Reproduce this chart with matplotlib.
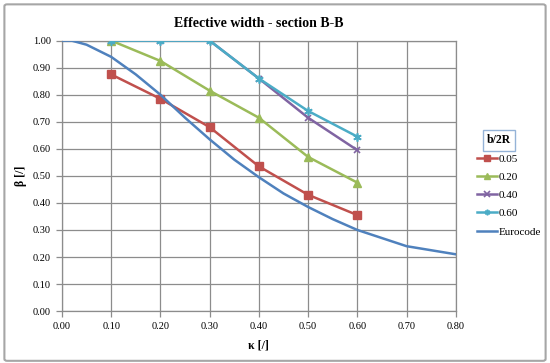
import matplotlib
matplotlib.use("Agg")
import matplotlib.pyplot as plt
from matplotlib.patches import FancyBboxPatch

plt.rcParams['font.family'] = ['Liberation Serif', 'DejaVu Serif']

kappa = [0.1, 0.2, 0.3, 0.4, 0.5, 0.6]
beta_005 = [0.875, 0.785, 0.68, 0.535, 0.43, 0.355]
beta_020 = [1.00, 0.925, 0.815, 0.715, 0.57, 0.475]
beta_040 = [1.00, 1.00, 1.00, 0.86, 0.715, 0.595]
beta_060 = [1.00, 1.00, 1.00, 0.86, 0.74, 0.645]

euro_kappa = [0.00, 0.02, 0.05, 0.10, 0.15, 0.20, 0.25, 0.30, 0.35, 0.40,
              0.45, 0.50, 0.55, 0.60, 0.65, 0.70, 0.75, 0.80]
euro_beta = [1.00, 1.00, 0.985, 0.94, 0.875, 0.80, 0.715, 0.635, 0.56, 0.495,
             0.435, 0.385, 0.34, 0.30, 0.27, 0.24, 0.225, 0.21]

series_labels = ['0.05', '0.20', '0.40', '0.60', 'Eurocode']
colors = ['#C0504D', '#9BBB59', '#8064A2', '#4BACC6', '#4F81BD']
xticks = [0.0, 0.1, 0.2, 0.3, 0.4, 0.5, 0.6, 0.7, 0.8]
yticks = [0.0, 0.1, 0.2, 0.3, 0.4, 0.5, 0.6, 0.7, 0.8, 0.9, 1.0]

fig = plt.figure(figsize=(5.5, 3.63), dpi=100)
ax = fig.add_axes([0.1127, 0.143, 0.716, 0.745])

border = FancyBboxPatch((0.008, 0.006), 0.984, 0.982, boxstyle="round,pad=0,rounding_size=0.005",
                        transform=fig.transFigure, facecolor='white', edgecolor='#A6A6A6',
                        linewidth=1.5, zorder=-10)
fig.patches.append(border)

lw = 1.8
ax.plot(kappa, beta_005, color=colors[0], marker='s', markersize=5.5, lw=lw, label=series_labels[0], zorder=3)
ax.plot(kappa, beta_020, color=colors[1], marker='^', markersize=5.5, lw=lw, label=series_labels[1], zorder=3)
ax.plot(kappa, beta_040, color=colors[2], marker='x', markersize=5, mew=1.2, lw=lw, label=series_labels[2], zorder=3)
ax.plot(kappa, beta_060, color=colors[3], marker=(6, 2, 0), markersize=6, mew=1.2, lw=lw, label=series_labels[3], zorder=3)
ax.plot(euro_kappa, euro_beta, color=colors[4], lw=lw, label=series_labels[4], zorder=3)

ax.set_xlim(0, 0.8)
ax.set_ylim(0, 1.0)
ax.set_xticks(xticks)
ax.set_yticks(yticks)
ax.set_xticklabels([f'{v:.2f}' for v in xticks], fontsize=7.5)
ax.set_yticklabels([f'{v:.2f}' for v in yticks], fontsize=7.5)
ax.grid(True, color='#8C8C8C', linewidth=0.9)
ax.set_axisbelow(True)
for s in ax.spines.values():
    s.set_color('#8C8C8C')
    s.set_linewidth(0.9)
ax.tick_params(axis='both', direction='out', length=4, color='#8C8C8C', width=0.9, pad=4)

ax.set_title('Effective width - section B-B', fontsize=10, fontweight='bold', pad=10)
ax.set_xlabel('κ [/]', fontsize=8.5, fontweight='bold', labelpad=6)
ax.set_ylabel('β [/]', fontsize=8.5, fontweight='bold', labelpad=4)

leg = fig.legend(loc='upper left', bbox_to_anchor=(0.868, 0.576), frameon=False,
                 fontsize=8, handlelength=1.8, handletextpad=0.15, labelspacing=0.76,
                 borderaxespad=0, borderpad=0)
for h in leg.legend_handles:
    h.set_markersize(4)

fig.text(0.907, 0.613, 'b/2R', fontsize=8.5, fontweight='bold', ha='center', va='center',
         bbox=dict(boxstyle='square,pad=0.35', facecolor='white', edgecolor='#95B3D7', linewidth=1))

fig.savefig('out.png', dpi=100)
